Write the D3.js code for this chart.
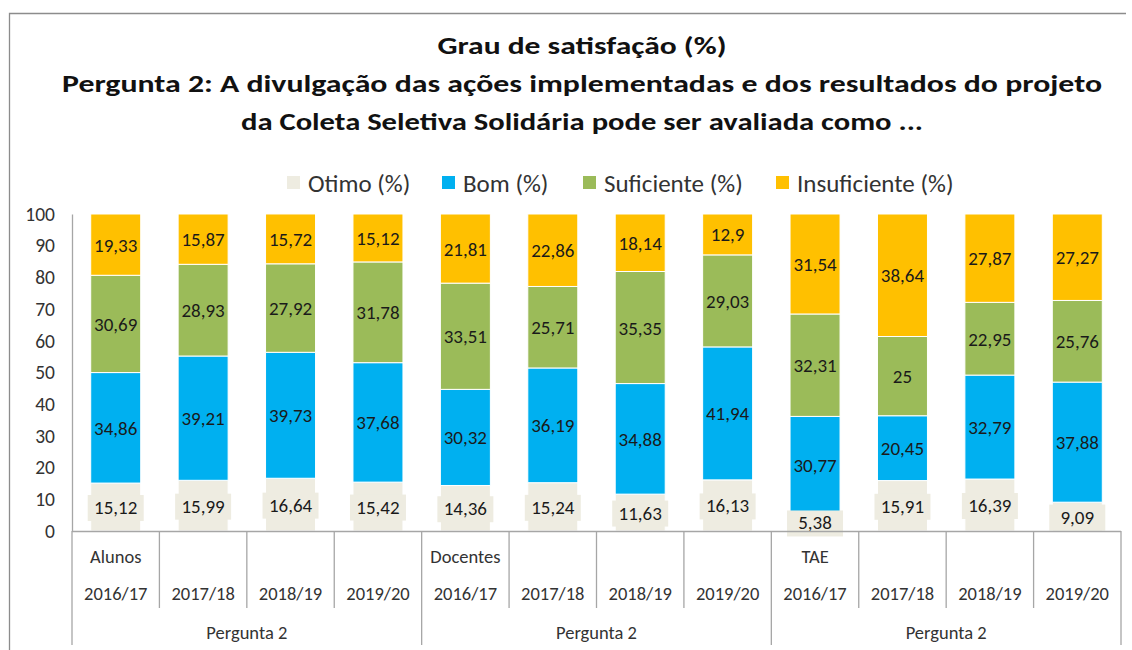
<!DOCTYPE html>
<html><head><meta charset="utf-8">
<script src="https://cdn.jsdelivr.net/npm/d3@7"></script>
<style>
body{margin:0;background:#fff;}
text{font-family:"Carlito","Noto Sans",sans-serif;fill:#1f1f1f;}
</style></head>
<body><svg id="c" width="1132" height="650"></svg>
<script>
const groups = ["Alunos","Docentes","TAE"];
const years = ["2016/17","2017/18","2018/19","2019/20"];
const outerLabel = "Pergunta 2";
const seriesNames = ["Otimo (%)","Bom (%)","Suficiente (%)","Insuficiente (%)"];
const otimo = [15.12,15.99,16.64,15.42,14.36,15.24,11.63,16.13,5.38,15.91,16.39,9.09];
const bom = [34.86,39.21,39.73,37.68,30.32,36.19,34.88,41.94,30.77,20.45,32.79,37.88];
const suficiente = [30.69,28.93,27.92,31.78,33.51,25.71,35.35,29.03,32.31,25,22.95,25.76];
const insuficiente = [19.33,15.87,15.72,15.12,21.81,22.86,18.14,12.9,31.54,38.64,27.87,27.27];
const yTicks = [0,10,20,30,40,50,60,70,80,90,100];
const titleLines = ["Grau de satisfação  (%)","Pergunta 2:  A divulgação das ações implementadas  e dos resultados  do projeto","da Coleta Seletiva Solidária pode ser avaliada  como ..."];
const colors = ["#EEECE1","#00B0F0","#9BBB59","#FFC000"];

const svg = d3.select("#c");
svg.append("path").attr("d","M9.5,650 L9.5,13.5 L1126,13.5").attr("fill","none").attr("stroke","#8c8c8c").attr("stroke-width",1.3);

// title
const tl = [{y:54,w:289},{y:92,w:1040},{y:130,w:682}];
titleLines.forEach((t,i)=>{
  svg.append("text").attr("x",582).attr("y",tl[i].y).attr("text-anchor","middle")
    .attr("font-size",25).attr("font-weight","bold").style("fill","#111").text(t)
    .attr("textLength",tl[i].w).attr("lengthAdjust","spacingAndGlyphs");
});

// legend
const legX = [287,442,583,776];
seriesNames.forEach((n,i)=>{
  svg.append("rect").attr("x",legX[i]).attr("y",176).attr("width",13).attr("height",13).attr("fill",colors[i]);
  svg.append("text").attr("x",legX[i]+21).attr("y",192).attr("font-size",25).style("fill","#333").text(n);
});

const n = otimo.length;
const x = d3.scaleBand().domain(d3.range(n)).range([72,1121]);
const y = d3.scaleLinear().domain([0,100]).range([531,214]);

const ya = svg.append("g").attr("transform","translate(72,0)").call(d3.axisLeft(y).tickValues(yTicks).tickSize(0).tickPadding(17));
ya.select(".domain").attr("stroke","#a6a6a6").attr("stroke-width",1.3);
ya.selectAll("text").attr("font-size",19.5).style("fill","#333").style("font-family",'"Carlito","Noto Sans",sans-serif');

const rows = d3.range(n).map(i=>({i, vals:[otimo[i],bom[i],suficiente[i],insuficiente[i]]}));
const stackData = rows.map(r=>{let c=0; return r.vals.map((v,k)=>{const s={i:r.i,k,v,y0:c,y1:c+v}; c+=v; return s;});}).flat();

const bw = 50;
const fmt = v => String(v).replace(".",",");
const g = svg.append("g");
g.selectAll("rect.seg").data(stackData).join("rect").attr("class","seg")
  .attr("x",d=>x(d.i)+x.bandwidth()/2-bw/2).attr("width",bw)
  .attr("y",d=>y(d.y1)).attr("height",d=>y(d.y0)-y(d.y1))
  .attr("fill",d=>colors[d.k]).attr("stroke","#fff").attr("stroke-width",1);

g.selectAll("rect.lb").data(stackData.filter(d=>d.k===0)).join("rect").attr("class","lb")
  .attr("x",d=>x(d.i)+x.bandwidth()/2-28).attr("width",56)
  .attr("y",d=>y((d.y0+d.y1)/2)-12).attr("height",26).attr("fill",colors[0]);

g.selectAll("text.lab").data(stackData).join("text").attr("class","lab")
  .attr("x",d=>x(d.i)+x.bandwidth()/2).attr("y",d=>y((d.y0+d.y1)/2)+7)
  .attr("text-anchor","middle").attr("font-size",19).style("fill","#1a1a1a").text(d=>fmt(d.v));

// category axis
const ax = svg.append("g").attr("stroke","#a6a6a6").attr("stroke-width",1.3);
ax.append("line").attr("x1",72).attr("x2",1121).attr("y1",531.5).attr("y2",531.5);
d3.range(n+1).forEach(i=>{
  const xx = i<n ? x(i) : x.range()[1];
  const outer = i%years.length===0;
  ax.append("line").attr("x1",xx).attr("x2",xx).attr("y1",531).attr("y2",outer?645:608);
});
d3.range(n).forEach(i=>{
  const cx = x(i)+x.bandwidth()/2;
  if(i%years.length===0){
    svg.append("text").attr("x",cx).attr("y",563).attr("text-anchor","middle").attr("font-size",18.5).style("fill","#333").text(groups[i/years.length]);
  }
  svg.append("text").attr("x",cx).attr("y",600).attr("text-anchor","middle").attr("font-size",18.5).style("fill","#333").text(years[i%years.length]);
});
groups.forEach((gname,j)=>{
  const x0 = x(j*years.length), x1 = j===groups.length-1 ? x.range()[1] : x((j+1)*years.length);
  svg.append("text").attr("x",(x0+x1)/2).attr("y",639).attr("text-anchor","middle").attr("font-size",18.5).style("fill","#333").text(outerLabel);
});
</script></body></html>
